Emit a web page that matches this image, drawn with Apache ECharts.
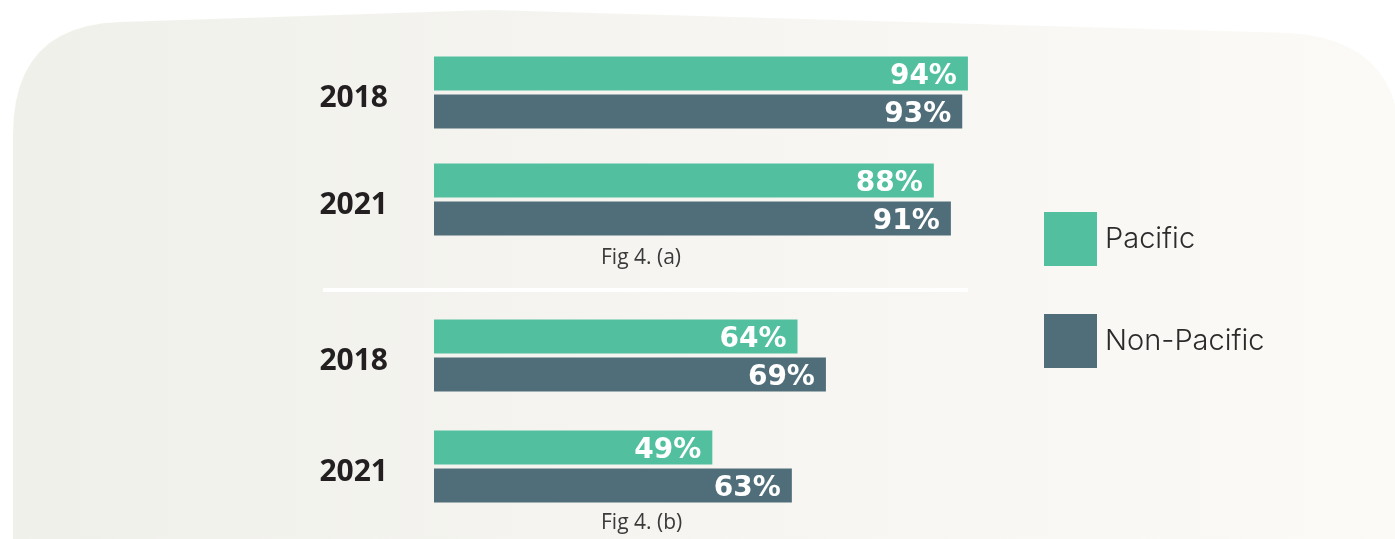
<!DOCTYPE html>
<html>
<head>
<meta charset="utf-8">
<script src="https://cdn.jsdelivr.net/npm/echarts@6/dist/echarts.min.js"></script>
<style>
html, body { margin: 0; padding: 0; background: #fff; }
#chart { width: 1395px; height: 539px; }
</style>
</head>
<body>
<div id="chart"></div>
<script>
var years = ['2018', '2021'];
var pacificA = [94, 88];
var nonPacificA = [93, 91];
var pacificB = [64, 49];
var nonPacificB = [69, 63];

var chart = echarts.init(document.getElementById('chart'));

var cPacific = '#52c09f';
var cNon = '#506e79';

// background card outline, corners sampled from quadratic curves
function quad(p0, c, p1, pts) {
    for (var i = 0; i <= 12; i++) {
        var t = i / 12, u = 1 - t;
        pts.push([u * u * p0[0] + 2 * u * t * c[0] + t * t * p1[0],
                  u * u * p0[1] + 2 * u * t * c[1] + t * t * p1[1]]);
    }
}
var cardPts = [[13, 539]];
quad([13, 135], [13, 25], [120, 22], cardPts);
cardPts.push([490, 10]);
quad([1290, 33], [1395, 40], [1400, 135], cardPts);
cardPts.push([1400, 539]);

function yAxisFor(idx) {
    return {
        type: 'category',
        gridIndex: idx,
        inverse: true,
        data: years,
        axisLine: { show: false },
        axisTick: { show: false },
        axisLabel: {
            margin: 46,
            // empty first line pushes the year a little below the band centre
            formatter: function (v) { return '{s|}\n{y|' + v + '}'; },
            rich: {
                s: { fontSize: 1, lineHeight: 12 },
                y: {
                    color: '#231f20',
                    fontSize: 30,
                    lineHeight: 34,
                    fontWeight: 'bold',
                    fontFamily: 'Open Sans'
                }
            }
        }
    };
}

function xAxisFor(idx) {
    return {
        type: 'value',
        gridIndex: idx,
        min: 0,
        max: 100,
        show: false
    };
}

function barSeries(name, idx, data, color) {
    return {
        name: name,
        type: 'bar',
        xAxisIndex: idx,
        yAxisIndex: idx,
        data: data,
        barWidth: 34,
        barGap: '12%',
        itemStyle: { color: color },
        label: {
            show: true,
            position: 'insideRight',
            distance: 11,
            formatter: function (p) { return '{s|}\n{v|' + p.value + '%}'; },
            rich: {
                s: { fontSize: 1, lineHeight: 6 },
                v: {
                    align: 'right',
                    color: '#fff',
                    fontSize: 28,
                    lineHeight: 32,
                    fontWeight: 'bold',
                    fontFamily: 'DejaVu Sans'
                }
            }
        },
        silent: true
    };
}

var option = {
    animation: false,
    graphic: [
        {
            type: 'polygon',
            z: -10,
            shape: { points: cardPts },
            style: {
                fill: new echarts.graphic.LinearGradient(0, 0, 1, 0, [
                    { offset: 0, color: '#f0f0eb' },
                    { offset: 0.5, color: '#f6f5f1' },
                    { offset: 1, color: '#fbfaf6' }
                ])
            }
        },
        {
            type: 'line',
            z: -5,
            shape: { x1: 323, y1: 290, x2: 968, y2: 290 },
            style: { stroke: '#ffffff', lineWidth: 4 }
        },
        {
            type: 'text',
            left: 601,
            top: 248,
            style: { text: 'Fig 4. (a)', fill: '#3a3a3a', fontSize: 21, fontFamily: 'Open Sans' }
        },
        {
            type: 'text',
            left: 601,
            top: 513,
            style: { text: 'Fig 4. (b)', fill: '#3a3a3a', fontSize: 21, fontFamily: 'Open Sans' }
        }
    ],
    legend: {
        orient: 'vertical',
        left: 1044,
        top: 212,
        padding: 0,
        itemWidth: 53,
        itemHeight: 54,
        itemGap: 48,
        icon: 'rect',
        selectedMode: false,
        data: ['Pacific', 'Non-Pacific'],
        textStyle: {
            color: '#2b2b2b',
            fontSize: 29,
            fontWeight: 300,
            fontFamily: 'Inter',
            padding: [8, 0, 0, 3]
        }
    },
    grid: [
        { left: 434, width: 568, top: 39, height: 214 },
        { left: 434, width: 568, top: 300, height: 222 }
    ],
    xAxis: [xAxisFor(0), xAxisFor(1)],
    yAxis: [yAxisFor(0), yAxisFor(1)],
    series: [
        barSeries('Pacific', 0, pacificA, cPacific),
        barSeries('Non-Pacific', 0, nonPacificA, cNon),
        barSeries('Pacific', 1, pacificB, cPacific),
        barSeries('Non-Pacific', 1, nonPacificB, cNon)
    ]
};

chart.setOption(option);
</script>
</body>
</html>
